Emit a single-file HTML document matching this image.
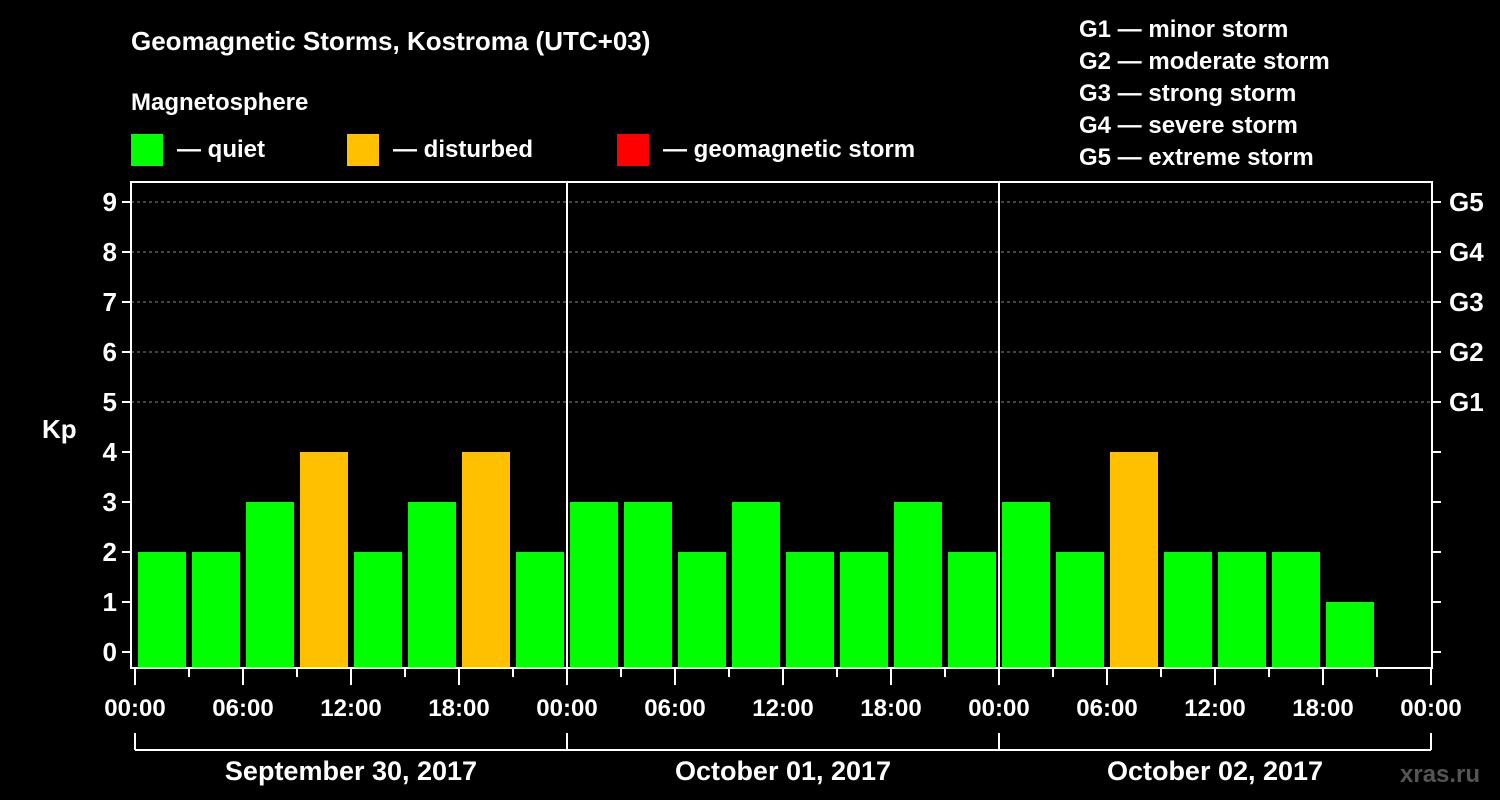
<!DOCTYPE html>
<html><head><meta charset="utf-8"><style>
html,body{margin:0;padding:0;background:#000;}
svg{display:block;font-family:"Liberation Sans",Arial,sans-serif;font-weight:bold;}
</style></head><body>
<svg id="c" width="1500" height="800" xmlns="http://www.w3.org/2000/svg">
<rect width="1500" height="800" fill="#000"/>
<text x="131" y="50" fill="#fff" font-size="26">Geomagnetic Storms, Kostroma (UTC+03)</text>
<text x="131" y="110" fill="#fff" font-size="24">Magnetosphere</text>
<g><rect x="131" y="134" width="32" height="32" fill="#00ff00"/><text x="177" y="157" fill="#fff" font-size="24">— quiet</text></g>
<g><rect x="347" y="134" width="32" height="32" fill="#ffc000"/><text x="393" y="157" fill="#fff" font-size="24">— disturbed</text></g>
<g><rect x="617" y="134" width="32" height="32" fill="#ff0000"/><text x="663" y="157" fill="#fff" font-size="24">— geomagnetic storm</text></g>
<g fill="#fff" font-size="24">
<text x="1079" y="37">G1 — minor storm</text>
<text x="1079" y="69">G2 — moderate storm</text>
<text x="1079" y="101">G3 — strong storm</text>
<text x="1079" y="133">G4 — severe storm</text>
<text x="1079" y="165">G5 — extreme storm</text>
</g>
<text x="42" y="438" fill="#fff" font-size="26">Kp</text>
<text x="1400" y="782" fill="#555" font-size="24">xras.ru</text>
<g id="grid"></g><g id="bars"></g><g id="axes"></g>
</svg>
<script>
const kpValues=[2,2,3,4,2,3,4,2, 3,3,2,3,2,2,3,2, 3,2,4,2,2,2,1];
const yTicks=[0,1,2,3,4,5,6,7,8,9];
const gLabels=["G1","G2","G3","G4","G5"];
const xTickLabels=["00:00","06:00","12:00","18:00","00:00","06:00","12:00","18:00","00:00","06:00","12:00","18:00","00:00"];
const dayLabels=["September 30, 2017","October 01, 2017","October 02, 2017"];
const NS="http://www.w3.org/2000/svg";
const X0=135,SLOT=54,Y0=652,UNIT=50,L=131,R=1432,T=182,B=668;
const xs=i=>X0+i*SLOT, ys=v=>Y0-v*UNIT;
function mk(tag,attrs,parent,text){const e=document.createElementNS(NS,tag);for(const k in attrs)e.setAttribute(k,attrs[k]);if(text!==undefined)e.textContent=text;parent.appendChild(e);return e;}
const grid=document.getElementById('grid'),bars=document.getElementById('bars'),axes=document.getElementById('axes');
yTicks.forEach(v=>{if(v>=5){const l=mk('line',{x1:L,x2:R,y1:ys(v),y2:ys(v),stroke:'#888','stroke-dasharray':'3,3','stroke-width':1},grid);

}});
kpValues.forEach((v,i)=>{const col=v>=5?'#ff0000':(v>=4?'#ffc000':'#00ff00');
const r=mk('rect',{x:xs(i)+3,y:ys(v),width:48,height:B-ys(v),fill:col},bars);

});
mk('rect',{x:L,y:T,width:R-L,height:B-T,fill:'none',stroke:'#fff','stroke-width':2},axes);
[1,2].forEach(d=>{const l=mk('line',{x1:xs(d*8),x2:xs(d*8),y1:T,y2:B,stroke:'#fff','stroke-width':2},axes);

});
yTicks.forEach(v=>{mk('line',{x1:L-9,x2:L,y1:ys(v),y2:ys(v),stroke:'#fff','stroke-width':2},axes);
mk('line',{x1:R,x2:R+9,y1:ys(v),y2:ys(v),stroke:'#fff','stroke-width':2},axes);
const t=mk('text',{x:L-14,y:ys(v)+9,fill:'#fff','font-size':26,'text-anchor':'end'},axes,String(v));

});
gLabels.forEach((g,i)=>{const t=mk('text',{x:R+17,y:ys(5+i)+9,fill:'#fff','font-size':26},axes,g);

});
for(let i=0;i<=24;i++){const major=i%2===0;mk('line',{x1:xs(i),x2:xs(i),y1:B,y2:major?685:677,stroke:'#fff','stroke-width':2},axes);}
xTickLabels.forEach((s,i)=>{const t=mk('text',{x:xs(i*2),y:716,fill:'#fff','font-size':24,'text-anchor':'middle'},axes,s);

});
mk('line',{x1:xs(0),x2:xs(24),y1:750,y2:750,stroke:'#fff','stroke-width':2},axes);
[0,1,2,3].forEach(d=>mk('line',{x1:xs(d*8),x2:xs(d*8),y1:733,y2:750,stroke:'#fff','stroke-width':2},axes));
dayLabels.forEach((s,d)=>{const t=mk('text',{x:xs(d*8+4),y:780,fill:'#fff','font-size':27,'text-anchor':'middle'},axes,s);

});
</script>
</body></html>
